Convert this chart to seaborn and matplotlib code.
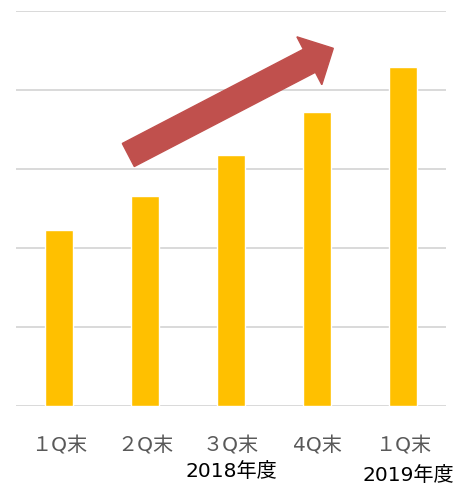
import matplotlib
matplotlib.use("Agg")
import matplotlib.pyplot as plt
import matplotlib.transforms as mtransforms
from matplotlib.patches import FancyArrow
import seaborn as sns
import pandas as pd

periods = ["2018Q1", "2018Q2", "2018Q3", "2018Q4", "2019Q1"]
tick_labels = ["１Q末", "２Q末", "３Q末", "4Q末", "１Q末"]
values = [2.23, 2.66, 3.18, 3.72, 4.29]
year_labels = ["2018年度", "2019年度"]

sns.set_theme(style="white")
plt.rcParams["font.family"] = ["DejaVu Sans", "Noto Sans CJK JP"]

df = pd.DataFrame({"period": periods, "value": values})

fig = plt.figure(figsize=(4.6, 4.83), dpi=100)
ax = fig.add_axes([16 / 460, (483 - 406.3) / 483, 430 / 460, 395.6 / 483])

sns.barplot(data=df, x="period", y="value", order=periods, color="#FFC000",
            saturation=1, width=0.333, ax=ax, zorder=2)

ax.set_ylim(0, 5)
ax.set_yticks([0, 1, 2, 3, 4, 5])
ax.set_yticklabels([])
ax.yaxis.grid(True, color="#D9D9D9", linewidth=1.4)
ax.set_axisbelow(True)
for s in ax.spines.values():
    s.set_visible(False)

ax.set_xticks(range(len(periods)))
ax.set_xticklabels(tick_labels, fontsize=14.5, color="#595959")
ax.tick_params(axis="x", length=0, pad=21.5)
ax.tick_params(axis="y", length=0)
ax.set_xlabel("")
ax.set_ylabel("")

trans = ax.get_xaxis_transform()
ax.text(2, -0.165, year_labels[0], transform=trans, ha="center", va="center",
        fontsize=14.5, color="black", clip_on=False)
ax.text(4.06, -0.175, year_labels[1], transform=trans, ha="center", va="center",
        fontsize=14.5, color="black", clip_on=False)

# trend arrow, drawn in pixel space
arrow = FancyArrow(128.3, 483 - 155, 205, 106.7, width=26, head_width=54,
                   head_length=27, length_includes_head=True,
                   color="#C0504D", transform=mtransforms.IdentityTransform(),
                   zorder=5)
fig.patches.append(arrow)

fig.savefig("out.png", dpi=100)
